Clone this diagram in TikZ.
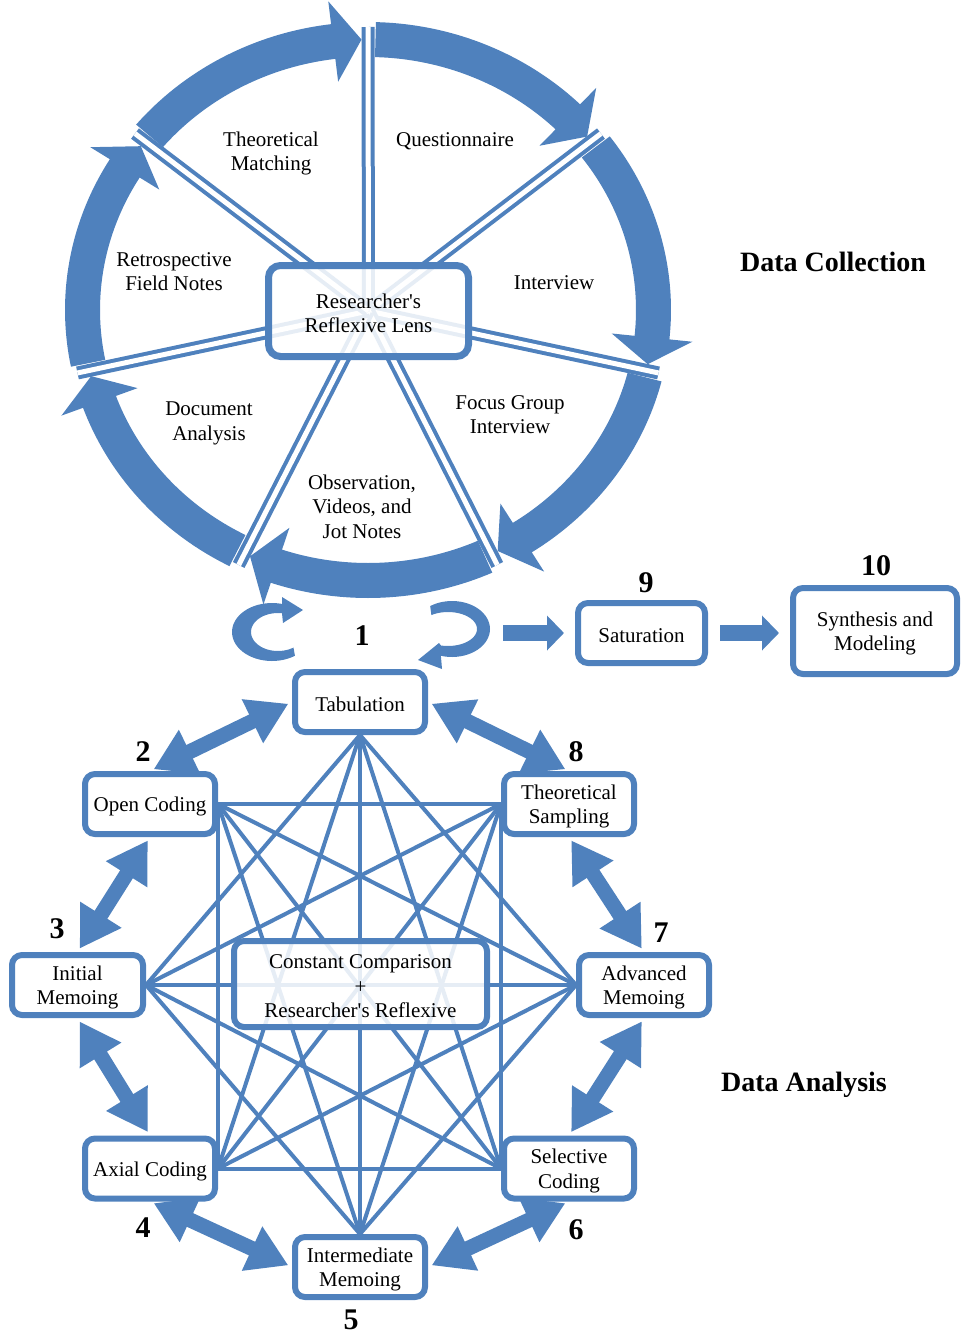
\documentclass[tikz,border=0pt]{standalone}
\usepackage{fontspec}
\setmainfont{Liberation Serif}
\usetikzlibrary{arrows.meta,calc}
\definecolor{ob}{RGB}{79,129,189}
\pgfdeclarelayer{bg}
\pgfsetlayers{bg,main}
\begin{document}
\begin{tikzpicture}[x=1pt,y=-1pt,
  txt/.style={font=\fontsize{21}{24.5}\selectfont, align=center, inner sep=0pt},
  lbl/.style={txt, yshift=-2.5pt},
  num/.style={font=\fontsize{30}{30}\selectfont\bfseries, inner sep=0pt},
  ttl/.style={font=\fontsize{28}{30}\selectfont\bfseries, inner sep=0pt},
  box/.style={draw=ob, line width=6pt, fill=white, rounded corners=10pt, minimum width=130pt, minimum height=60pt, inner sep=0pt},
  spoke/.style={draw=ob, line width=4pt, double=white, double distance=5pt},
  net/.style={draw=ob, line width=4pt},
  darr/.style={draw=ob, line width=15pt, shorten <=4pt, shorten >=4pt, {Triangle[width=46pt,length=40pt]}-{Triangle[width=46pt,length=40pt]}},
  barr/.style={draw=ob, line width=16pt, -{Triangle[width=34pt,length=17pt]}},
]
\useasboundingbox (0,0) rectangle (962,1336);
\def\cx{368}\def\cy{310}

% ---------- ring of arrows ----------
\begin{pgfonlayer}{bg}
\foreach \k in {0,...,6} {
  \pgfmathsetmacro{\sa}{90-\k*360/7}
  \pgfmathsetmacro{\ea}{\sa-360/7}
  \pgfmathsetmacro{\aa}{\sa-1.5}
  \pgfmathsetmacro{\ab}{\ea+7}
  \pgfmathsetmacro{\at}{\ea+1.3}
  \fill[ob] plot[domain=\aa:\ab, samples=40, variable=\t] ({\cx+303*cos(\t)},{\cy-288*sin(\t)})
    -- ({\cx+326*cos(\ab)},{\cy-311*sin(\ab)})
    -- ({\cx+285.5*cos(\at)},{\cy-270.5*sin(\at)})
    -- ({\cx+245*cos(\ab)},{\cy-230*sin(\ab)})
    -- plot[domain=\ab:\aa, samples=40, variable=\t] ({\cx+268*cos(\t)},{\cy-253*sin(\t)})
    -- cycle;
}
\coordinate (rlc) at (368.5,311);
\foreach \k in {0,...,6} {
  \pgfmathsetmacro{\sa}{90-\k*360/7}
  \coordinate (s\k) at ({\cx+298*cos(\sa)},{\cy-283*sin(\sa)});
  \draw[spoke] (rlc) -- (s\k);
}
\end{pgfonlayer}

\node[box, line width=7pt, rounded corners=12pt, minimum width=200pt, minimum height=91pt, fill opacity=0.86,
  label={[lbl, text opacity=1]center:{Researcher\textquotesingle s\\Reflexive Lens}}] (rl) at (rlc) {};

\node[lbl] (lTM) at (271,151) {Theoretical\\Matching};
\node[lbl] (lQ) at (455,139) {Questionnaire};
\node[lbl] (lI) at (554,280) {Interview};
\node[lbl] (lRF) at (174,269) {Retrospective\\Field Notes};
\node[lbl] (lDA) at (209,421) {Document\\Analysis};
\node[lbl] (lFG) at (510,412) {Focus Group\\Interview};
\node[lbl] (lOV) at (362,504) {Observation,\\Videos, and\\Jot Notes};

\node[ttl] (dc) at (833,262) {Data Collection};
\node[ttl] (da) at (804,1085) {Data Analysis};

% ---------- loops around 1 ----------
\fill[ob] (303,610) -- (282,597)
  -- plot[domain=75.5:305, samples=40, variable=\t] ({272+40*cos(\t)},{632-29*sin(\t)})
  -- plot[domain=305:81.5, samples=40, variable=\t] ({278+27*cos(\t)},{632-19*sin(\t)})
  -- (283,623) -- cycle;
\fill[ob] plot[domain=125:-107, samples=40, variable=\t] ({452+38*cos(\t)},{629-28*sin(\t)})
  -- (442,669) -- (418,660) -- (439,643)
  -- plot[domain=-104:125, samples=40, variable=\t] ({448+29*cos(\t)},{629-17*sin(\t)})
  -- cycle;

\node[num] (n1) at (362,636) {1};
\node[num] (n9) at (646,583) {9};
\node[num] (n10) at (876,566) {10};

\node[box, minimum width=127pt, label={[lbl]center:Saturation}] (sat) at (641.5,633) {};
\node[box, minimum width=164pt, minimum height=86pt, label={[lbl]center:{Synthesis and\\Modeling}}] (syn) at (875,631) {};
\coordinate (lr) at (503,633);
\draw[barr, shorten >=11pt] (lr) -- (sat.west);
\draw[barr, shorten <=12pt, shorten >=11pt] (sat.east) -- (sat.east -| syn.west);

% ---------- data analysis ----------
\node[box, label={[lbl]center:Tabulation}] (t) at (360,702) {};
\node[box, label={[lbl]center:Open Coding}] (oc) at (150,804) {};
\node[box, label={[lbl]center:{Theoretical\\Sampling}}] (ts) at (569,804) {};
\node[box, minimum width=131pt, label={[lbl]center:{Initial\\Memoing}}] (im) at (77.5,985) {};
\node[box, label={[lbl]center:{Advanced\\Memoing}}] (am) at (644,985) {};
\node[box, label={[lbl]center:Axial Coding}] (ax) at (150,1168.5) {};
\node[box, label={[lbl]center:{Selective\\Coding}}] (sc) at (569,1168.5) {};
\node[box, label={[lbl]center:{Intermediate\\Memoing}}] (mm) at (360,1267) {};
\node[box, minimum width=253pt, minimum height=86pt, fill opacity=0.86,
  label={[lbl, text opacity=1]center:{Constant Comparison\\+\\Researcher\textquotesingle s Reflexive}}] (cc) at (360.5,984) {};

\begin{pgfonlayer}{bg}
\draw[net] (t.south) -- (im.east);
\draw[net] (t.south) -- (ax.east);
\draw[net] (t.south) -- (mm.north);
\draw[net] (t.south) -- (sc.west);
\draw[net] (t.south) -- (am.west);
\draw[net] (oc.east) -- (ax.east);
\draw[net] (oc.east) -- (mm.north);
\draw[net] (oc.east) -- (sc.west);
\draw[net] (oc.east) -- (am.west);
\draw[net] (oc.east) -- (ts.west);
\draw[net] (im.east) -- (mm.north);
\draw[net] (im.east) -- (sc.west);
\draw[net] (im.east) -- (am.west);
\draw[net] (im.east) -- (ts.west);
\draw[net] (ax.east) -- (sc.west);
\draw[net] (ax.east) -- (am.west);
\draw[net] (ax.east) -- (ts.west);
\draw[net] (mm.north) -- (am.west);
\draw[net] (mm.north) -- (ts.west);
\draw[net] (sc.west) -- (ts.west);
\end{pgfonlayer}

\node[num] (n2) at (143,752) {2};
\node[num] (n3) at (57,929) {3};
\node[num] (n4) at (143,1228) {4};
\node[num] (n5) at (351,1320) {5};
\node[num] (n6) at (576,1230) {6};
\node[num] (n7) at (661,933) {7};
\node[num] (n8) at (576,752) {8};

\draw[darr] (t.west) -- (oc.north);
\draw[darr] (t.east) -- (ts.north);
\draw[darr] (oc.south) -- (im.north);
\draw[darr] (ts.south) -- (am.north);
\draw[darr] (im.south) -- (ax.north);
\draw[darr] (am.south) -- (sc.north);
\draw[darr] (ax.south) -- (mm.west);
\draw[darr] (sc.south) -- (mm.east);
\end{tikzpicture}
\end{document}
